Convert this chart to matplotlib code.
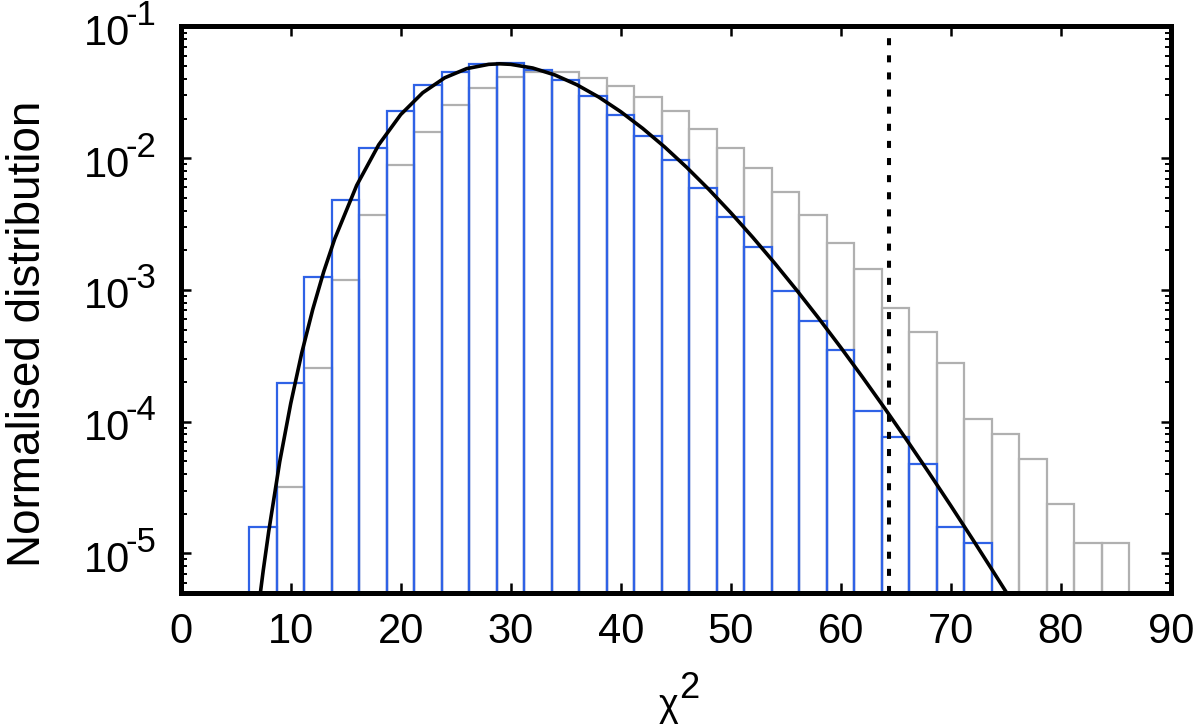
import numpy as np
import matplotlib
matplotlib.use('Agg')
import matplotlib.pyplot as plt
from matplotlib.ticker import NullFormatter
from matplotlib.transforms import blended_transform_factory

# histogram bins (width 2.5, first edge 6.25)
bin_edges = np.arange(6.25, 86.26, 2.5)

# blue histogram, bins starting at 6.25
blue_vals = [1.58e-5, 1.95e-4, 1.25e-3, 4.8e-3, 1.19e-2, 2.29e-2, 3.6e-2, 4.54e-2,
             5.18e-2, 5.25e-2, 4.7e-2, 3.9e-2, 2.96e-2, 2.12e-2, 1.48e-2, 9.7e-3,
             5.94e-3, 3.58e-3, 2.12e-3, 9.74e-4, 5.83e-4, 3.47e-4, 1.2e-4, 7.58e-5,
             4.79e-5, 1.58e-5, 1.2e-5]

# grey histogram, bins starting at 8.75
grey_vals = [3.18e-5, 2.55e-4, 1.2e-3, 3.7e-3, 8.9e-3, 1.57e-2, 2.53e-2, 3.42e-2,
             4.11e-2, 4.54e-2, 4.48e-2, 4.07e-2, 3.51e-2, 2.92e-2, 2.29e-2, 1.67e-2,
             1.19e-2, 8.37e-3, 5.53e-3, 3.68e-3, 2.29e-3, 1.43e-3, 7.3e-4, 4.82e-4,
             2.79e-4, 1.04e-4, 8.0e-5, 5.21e-5, 2.38e-5, 1.2e-5, 1.2e-5]

# black curve, points
curve_x = [6.5, 7, 7.5, 8, 9, 10, 11, 12, 13, 14, 16, 18, 20, 22, 24, 26, 28, 29, 30,
           32, 34, 36, 38, 40, 42, 44, 46, 48, 50, 52, 54, 56, 58, 60, 62, 64, 66,
           68, 70, 72, 74, 75, 76]
curve_y = [1.53e-6, 3.49e-6, 7.40e-6, 1.468e-5, 4.96e-5, 1.373e-4, 3.318e-4, 7.10e-4,
           1.376e-3, 2.443e-3, 6.23e-3, 1.265e-2, 2.145e-2, 3.142e-2, 4.08e-2, 4.79e-2,
           5.16e-2, 5.21e-2, 5.16e-2, 4.84e-2, 4.29e-2, 3.616e-2, 2.914e-2, 2.255e-2,
           1.683e-2, 1.216e-2, 8.52e-3, 5.81e-3, 3.862e-3, 2.509e-3, 1.596e-3, 9.95e-4,
           6.09e-4, 3.661e-4, 2.167e-4, 1.263e-4, 7.26e-5, 4.12e-5, 2.306e-5, 1.276e-5,
           6.98e-6, 5.15e-6, 3.78e-6]

chi2_cut = 64.4
y_exponents = [-1, -2, -3, -4, -5]

plt.rcParams['font.family'] = ['Liberation Sans', 'DejaVu Sans']
plt.rcParams['axes.unicode_minus'] = False

fig = plt.figure(figsize=(12, 7.24), dpi=100)
ax = fig.add_axes([0.1506, 0.1809, 0.825, 0.7825])

width = bin_edges[1] - bin_edges[0]
ax.bar(bin_edges[1:1 + len(grey_vals)], grey_vals, width=width, align='edge',
       bottom=1e-8, fill=False, edgecolor='#b0b0b0', linewidth=1.6)
ax.bar(bin_edges[:len(blue_vals)], blue_vals, width=width, align='edge',
       bottom=1e-8, fill=False, edgecolor='#2f62e6', linewidth=1.6)
ax.plot(curve_x, curve_y, color='black', linewidth=2.6)
ax.axvline(chi2_cut, color='black', linewidth=2.9, linestyle=(0, (1.75, 2.5)))

ax.set_yscale('log')
ax.set_xlim(0, 90)
ax.set_ylim(5e-6, 0.1)
ax.set_xticks(np.arange(0, 91, 10))
ax.set_yticks([10.0 ** e for e in y_exponents])
ax.yaxis.set_major_formatter(NullFormatter())
ax.yaxis.set_minor_formatter(NullFormatter())

for s in ax.spines.values():
    s.set_linewidth(3.6)
ax.tick_params(which='both', direction='in', top=True, right=True, labelsize=30)
ax.tick_params(which='major', length=7, width=1.8)
ax.tick_params(which='minor', length=4, width=1.4)
ax.tick_params(axis='x', which='major', pad=14)

# y tick labels as 10 plus a large raised exponent
trans = blended_transform_factory(ax.transAxes, ax.transData)
for e in y_exponents:
    ax.annotate('10', xy=(0, 10.0 ** e), xycoords=trans, xytext=(-36.7, -13.2),
                textcoords='offset points', ha='right', va='baseline', fontsize=30,
                annotation_clip=False)
    ax.annotate(str(e), xy=(0, 10.0 ** e), xycoords=trans, xytext=(-39.6, 1.2),
                textcoords='offset points', ha='left', va='baseline', fontsize=25,
                annotation_clip=False)

# x label: chi with a raised 2
ax.annotate('χ', xy=(0.5, 0), xycoords='axes fraction', xytext=(1.7, -88.5),
            textcoords='offset points', ha='right', va='baseline', fontsize=27)
ax.annotate('2', xy=(0.5, 0), xycoords='axes fraction', xytext=(2.4, -75.5),
            textcoords='offset points', ha='left', va='baseline', fontsize=26)

ax.set_ylabel('Normalised distribution', fontsize=33)
ax.yaxis.set_label_coords(-0.132, 0.457)

fig.savefig('out.png', dpi=100)
